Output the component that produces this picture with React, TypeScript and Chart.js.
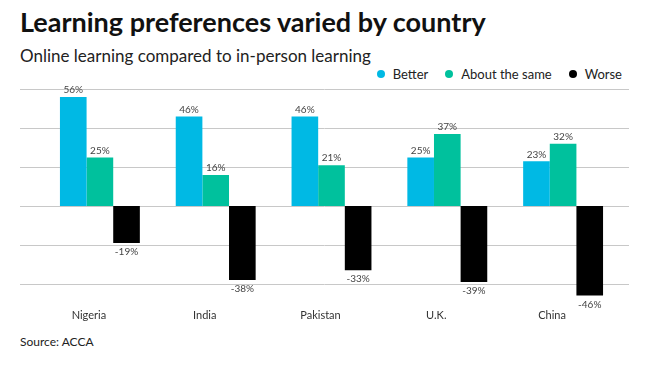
import React, { useEffect, useRef } from "react";
import { Chart, registerables } from "chart.js";

Chart.register(...registerables);

const categories = ["Nigeria", "India", "Pakistan", "U.K.", "China"];
const better = [56, 46, 46, 25, 23];
const aboutSame = [25, 16, 21, 37, 32];
const worse = [-19, -38, -33, -39, -46];
const gridValues = [60, 40, 20, 0, -20, -40];

const seriesNames = ["Better", "About the same", "Worse"];
const seriesColors = ["#00B9E4", "#00C19D", "#000000"];

const FONT = "Lato, 'Open Sans', sans-serif";

const gridPlugin = {
  id: "fullGrid",
  beforeDatasetsDraw(chart: any) {
    const ctx = chart.ctx;
    const y = chart.scales.y;
    ctx.save();
    ctx.strokeStyle = "#c8c8c8";
    ctx.lineWidth = 1;
    gridValues.forEach((v) => {
      const py = Math.round(y.getPixelForValue(v)) + 0.5;
      ctx.beginPath();
      ctx.moveTo(20, py);
      ctx.lineTo(629, py);
      ctx.stroke();
    });
    ctx.restore();
  },
};

const labelPlugin = {
  id: "valueLabels",
  afterDatasetsDraw(chart: any) {
    const ctx = chart.ctx;
    ctx.save();
    ctx.font = "10px " + FONT;
    ctx.fillStyle = "#444";
    ctx.textAlign = "center";
    chart.data.datasets.forEach((ds: any, di: number) => {
      const meta = chart.getDatasetMeta(di);
      meta.data.forEach((el: any, i: number) => {
        const v = ds.data[i];
        const txt = v + "%";
        if (v >= 0) {
          ctx.textBaseline = "bottom";
          ctx.fillText(txt, el.x, el.y - 2);
        } else {
          ctx.textBaseline = "top";
          ctx.fillText(txt, el.x, el.y + 4);
        }
      });
    });
    ctx.restore();
  },
};

export default function App() {
  const canvasRef = useRef<HTMLCanvasElement | null>(null);

  useEffect(() => {
    if (!canvasRef.current) return;
    const values = [better, aboutSame, worse];
    const chart = new Chart(canvasRef.current, {
      type: "bar",
      data: {
        labels: categories,
        datasets: values.map((d, i) => ({
          label: seriesNames[i],
          data: d,
          backgroundColor: seriesColors[i],
          borderWidth: 0,
          categoryPercentage: 0.69,
          barPercentage: 1,
        })),
      },
      options: {
        animation: false,
        responsive: false,
        maintainAspectRatio: false,
        layout: { padding: { left: 42, right: 29, top: 9.3, bottom: 0 } },
        plugins: {
          legend: { display: false },
          tooltip: { enabled: false },
          title: { display: false },
        },
        scales: {
          x: {
            grid: { display: false, drawTicks: false },
            border: { display: false },
            afterFit: (scale: any) => {
              scale.height = 26.7;
            },
            ticks: {
              color: "#333",
              font: { family: FONT, size: 11 },
              padding: 6,
              labelOffset: -11,
              maxRotation: 0,
            },
          },
          y: {
            display: false,
            min: -50,
            max: 60,
          },
        },
      },
      plugins: [gridPlugin, labelPlugin],
    });
    return () => chart.destroy();
  }, []);

  const legendItem = (name: string, color: string) => (
    <span
      key={name}
      style={{ display: "inline-flex", alignItems: "center", marginLeft: 17 }}
    >
      <span
        style={{
          width: 8,
          height: 8,
          borderRadius: 4,
          background: color,
          display: "inline-block",
          marginRight: 8,
        }}
      />
      {name}
    </span>
  );

  return (
    <div
      style={{
        position: "absolute",
        left: 0,
        top: 0,
        width: 650,
        height: 365,
        background: "#fff",
        fontFamily: FONT,
        overflow: "hidden",
      }}
    >
      <div
        style={{
          position: "absolute",
          left: 20,
          top: 6,
          fontSize: 27,
          fontWeight: 700,
          color: "#111",
          whiteSpace: "nowrap",
          lineHeight: "32px",
        }}
      >
        Learning preferences varied by country
      </div>
      <div
        style={{
          position: "absolute",
          left: 20,
          top: 45,
          fontSize: 17,
          color: "#222",
          whiteSpace: "nowrap",
          lineHeight: "22px",
        }}
      >
        Online learning compared to in-person learning
      </div>
      <div
        style={{
          position: "absolute",
          right: 28,
          top: 66,
          fontSize: 13,
          color: "#222",
          whiteSpace: "nowrap",
          lineHeight: "16px",
          display: "flex",
        }}
      >
        {seriesNames.map((n, i) => legendItem(n, seriesColors[i]))}
      </div>
      <canvas
        ref={canvasRef}
        width={650}
        height={250}
        style={{ position: "absolute", left: 0, top: 80, width: 650, height: 250 }}
      />
      <div
        style={{
          position: "absolute",
          left: 20,
          top: 334,
          fontSize: 12,
          color: "#222",
          whiteSpace: "nowrap",
          lineHeight: "15px",
        }}
      >
        Source: ACCA
      </div>
    </div>
  );
}
